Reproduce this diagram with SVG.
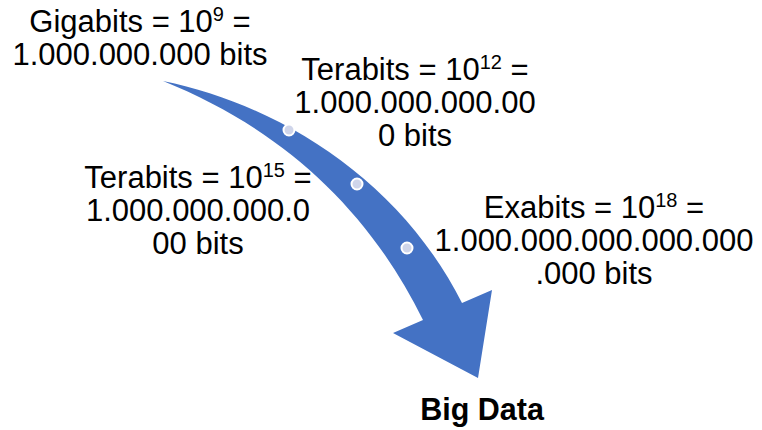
<svg xmlns="http://www.w3.org/2000/svg" width="762" height="430" viewBox="0 0 762 430">
  <style>
    .lbl { font-family: "Liberation Sans", Arial, sans-serif; font-size: 31px; fill: #000; text-anchor: middle; }
    .sup { font-size: 20px; }
    .title { font-family: "Liberation Sans", Arial, sans-serif; font-size: 30.5px; font-weight: bold; fill: #000; text-anchor: middle; }
    .dot { fill: #cfd5ea; stroke: #ffffff; stroke-width: 2; }
  </style>
  <rect width="762" height="430" fill="#ffffff"/>

  <!-- curved arrow with milestone dots -->
  <g id="connectors">
    <path d="M163,81 C280,105 400,180 462,303 L492,290 L478,378 L393,333 L423,320 C368,208 280,128 163,81 Z" fill="#4472c4"/>
    <circle class="dot" cx="289" cy="130" r="5.5"/>
    <circle class="dot" cx="357" cy="184" r="5.5"/>
    <circle class="dot" cx="407" cy="248" r="5.5"/>
  </g>

  <g id="gigabits">
    <text class="lbl" x="140" y="32">Gigabits = 10<tspan class="sup" dy="-11">9</tspan><tspan dy="11"> =</tspan></text>
    <text class="lbl" x="140" y="65">1.000.000.000 bits</text>
  </g>

  <g id="terabits12">
    <text class="lbl" x="415" y="80">Terabits = 10<tspan class="sup" dy="-11">12</tspan><tspan dy="11"> =</tspan></text>
    <text class="lbl" x="415" y="113">1.000.000.000.00</text>
    <text class="lbl" x="415" y="146">0 bits</text>
  </g>

  <g id="terabits15">
    <text class="lbl" x="198" y="188">Terabits = 10<tspan class="sup" dy="-11">15</tspan><tspan dy="11"> =</tspan></text>
    <text class="lbl" x="198" y="221">1.000.000.000.0</text>
    <text class="lbl" x="198" y="254">00 bits</text>
  </g>

  <g id="exabits">
    <text class="lbl" x="594" y="218">Exabits = 10<tspan class="sup" dy="-11">18</tspan><tspan dy="11"> =</tspan></text>
    <text class="lbl" x="594" y="251">1.000.000.000.000.000</text>
    <text class="lbl" x="594" y="284">.000 bits</text>
  </g>

  <g id="bigdata">
    <text class="title" x="482" y="420">Big Data</text>
  </g>
</svg>
